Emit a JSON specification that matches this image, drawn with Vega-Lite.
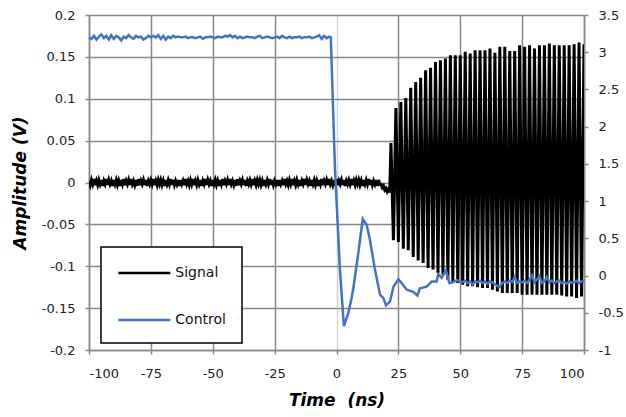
{
"$schema":"https://vega.github.io/schema/vega-lite/v6.json",
"width":495,"height":335,
"autosize":{"type":"none"},
"padding":{"left":89,"top":15,"right":42,"bottom":67},
"background":"white",
"config":{
 "view":{"stroke":null},
 "font":"DejaVu Sans",
 "axis":{"labelFont":"DejaVu Sans","labelFontSize":13,"labelColor":"#222","domainColor":"#888","domainWidth":1.5,"tickColor":"#888","tickWidth":1.5,"tickSize":4,"gridColor":"#888","gridWidth":1.5,"titleFont":"DejaVu Sans","titleFontSize":17,"titleFontWeight":"bold","titleFontStyle":"italic","titleColor":"#000"}
},
"datasets":{
"signal":[
{"t":-100,"v":0.002},{"t":-99.5,"v":-0.003},{"t":-99,"v":0.003},{"t":-98.5,"v":-0.002},{"t":-98,"v":0.004},{"t":-97.5,"v":-0.003},{"t":-97,"v":0.002},{"t":-96.5,"v":-0.003},{"t":-96,"v":0.003},{"t":-95.5,"v":-0.002},
{"t":-95,"v":0.003},{"t":-94.5,"v":-0.004},{"t":-94,"v":0.002},{"t":-93.5,"v":-0.002},{"t":-93,"v":0.004},{"t":-92.5,"v":-0.003},{"t":-92,"v":0.003},{"t":-91.5,"v":-0.002},{"t":-91,"v":0.002},{"t":-90.5,"v":-0.004},
{"t":-90,"v":0.003},{"t":-89.5,"v":-0.002},{"t":-89,"v":0.003},{"t":-88.5,"v":-0.003},{"t":-88,"v":0.002},{"t":-87.5,"v":-0.004},{"t":-87,"v":0.003},{"t":-86.5,"v":-0.002},{"t":-86,"v":0.004},{"t":-85.5,"v":-0.003},
{"t":-85,"v":0.002},{"t":-84.5,"v":-0.002},{"t":-84,"v":0.003},{"t":-83.5,"v":-0.003},{"t":-83,"v":0.004},{"t":-82.5,"v":-0.002},{"t":-82,"v":0.002},{"t":-81.5,"v":-0.003},{"t":-81,"v":0.003},{"t":-80.5,"v":-0.004},
{"t":-80,"v":0.004},{"t":-79.5,"v":-0.003},{"t":-79,"v":0.002},{"t":-78.5,"v":-0.002},{"t":-78,"v":0.003},{"t":-77.5,"v":-0.003},{"t":-77,"v":0.003},{"t":-76.5,"v":-0.004},{"t":-76,"v":0.002},{"t":-75.5,"v":-0.002},
{"t":-75,"v":0.003},{"t":-74.5,"v":-0.002},{"t":-74,"v":0.004},{"t":-73.5,"v":-0.003},{"t":-73,"v":0.002},{"t":-72.5,"v":-0.003},{"t":-72,"v":0.003},{"t":-71.5,"v":-0.002},{"t":-71,"v":0.003},{"t":-70.5,"v":-0.003},
{"t":-70,"v":0.002},{"t":-69.5,"v":-0.004},{"t":-69,"v":0.003},{"t":-68.5,"v":-0.002},{"t":-68,"v":0.003},{"t":-67.5,"v":-0.002},{"t":-67,"v":0.004},{"t":-66.5,"v":-0.003},{"t":-66,"v":0.003},{"t":-65.5,"v":-0.003},
{"t":-65,"v":0.002},{"t":-64.5,"v":-0.002},{"t":-64,"v":0.003},{"t":-63.5,"v":-0.004},{"t":-63,"v":0.003},{"t":-62.5,"v":-0.002},{"t":-62,"v":0.002},{"t":-61.5,"v":-0.003},{"t":-61,"v":0.004},{"t":-60.5,"v":-0.002},
{"t":-60,"v":0.002},{"t":-59.5,"v":-0.003},{"t":-59,"v":0.003},{"t":-58.5,"v":-0.002},{"t":-58,"v":0.004},{"t":-57.5,"v":-0.003},{"t":-57,"v":0.002},{"t":-56.5,"v":-0.003},{"t":-56,"v":0.003},{"t":-55.5,"v":-0.002},
{"t":-55,"v":0.003},{"t":-54.5,"v":-0.004},{"t":-54,"v":0.002},{"t":-53.5,"v":-0.002},{"t":-53,"v":0.004},{"t":-52.5,"v":-0.003},{"t":-52,"v":0.003},{"t":-51.5,"v":-0.002},{"t":-51,"v":0.002},{"t":-50.5,"v":-0.004},
{"t":-50,"v":0.003},{"t":-49.5,"v":-0.002},{"t":-49,"v":0.003},{"t":-48.5,"v":-0.003},{"t":-48,"v":0.002},{"t":-47.5,"v":-0.004},{"t":-47,"v":0.003},{"t":-46.5,"v":-0.002},{"t":-46,"v":0.004},{"t":-45.5,"v":-0.003},
{"t":-45,"v":0.002},{"t":-44.5,"v":-0.002},{"t":-44,"v":0.003},{"t":-43.5,"v":-0.003},{"t":-43,"v":0.004},{"t":-42.5,"v":-0.002},{"t":-42,"v":0.002},{"t":-41.5,"v":-0.003},{"t":-41,"v":0.003},{"t":-40.5,"v":-0.004},
{"t":-40,"v":0.004},{"t":-39.5,"v":-0.003},{"t":-39,"v":0.002},{"t":-38.5,"v":-0.002},{"t":-38,"v":0.003},{"t":-37.5,"v":-0.003},{"t":-37,"v":0.003},{"t":-36.5,"v":-0.004},{"t":-36,"v":0.002},{"t":-35.5,"v":-0.002},
{"t":-35,"v":0.003},{"t":-34.5,"v":-0.002},{"t":-34,"v":0.004},{"t":-33.5,"v":-0.003},{"t":-33,"v":0.002},{"t":-32.5,"v":-0.003},{"t":-32,"v":0.003},{"t":-31.5,"v":-0.002},{"t":-31,"v":0.003},{"t":-30.5,"v":-0.003},
{"t":-30,"v":0.002},{"t":-29.5,"v":-0.004},{"t":-29,"v":0.003},{"t":-28.5,"v":-0.002},{"t":-28,"v":0.003},{"t":-27.5,"v":-0.002},{"t":-27,"v":0.004},{"t":-26.5,"v":-0.003},{"t":-26,"v":0.003},{"t":-25.5,"v":-0.003},
{"t":-25,"v":0.002},{"t":-24.5,"v":-0.002},{"t":-24,"v":0.003},{"t":-23.5,"v":-0.004},{"t":-23,"v":0.003},{"t":-22.5,"v":-0.002},{"t":-22,"v":0.002},{"t":-21.5,"v":-0.003},{"t":-21,"v":0.004},{"t":-20.5,"v":-0.002},
{"t":-20,"v":0.002},{"t":-19.5,"v":-0.003},{"t":-19,"v":0.003},{"t":-18.5,"v":-0.002},{"t":-18,"v":0.004},{"t":-17.5,"v":-0.003},{"t":-17,"v":0.002},{"t":-16.5,"v":-0.003},{"t":-16,"v":0.003},{"t":-15.5,"v":-0.002},
{"t":-15,"v":0.003},{"t":-14.5,"v":-0.004},{"t":-14,"v":0.002},{"t":-13.5,"v":-0.002},{"t":-13,"v":0.004},{"t":-12.5,"v":-0.003},{"t":-12,"v":0.003},{"t":-11.5,"v":-0.002},{"t":-11,"v":0.002},{"t":-10.5,"v":-0.004},
{"t":-10,"v":0.003},{"t":-9.5,"v":-0.002},{"t":-9,"v":0.003},{"t":-8.5,"v":-0.003},{"t":-8,"v":0.002},{"t":-7.5,"v":-0.004},{"t":-7,"v":0.003},{"t":-6.5,"v":-0.002},{"t":-6,"v":0.004},{"t":-5.5,"v":-0.003},
{"t":-5,"v":0.002},{"t":-4.5,"v":-0.002},{"t":-4,"v":0.003},{"t":-3.5,"v":-0.003},{"t":-3,"v":0.004},{"t":-2.5,"v":-0.002},{"t":-2,"v":0.002},{"t":-1.5,"v":-0.003},{"t":-1,"v":0.003},{"t":-0.5,"v":-0.004},
{"t":0,"v":0.004},{"t":0.5,"v":-0.003},{"t":1,"v":0.002},{"t":1.5,"v":-0.002},{"t":2,"v":0.003},{"t":2.5,"v":-0.003},{"t":3,"v":0.003},{"t":3.5,"v":-0.004},{"t":4,"v":0.002},{"t":4.5,"v":-0.002},
{"t":5,"v":0.003},{"t":5.5,"v":-0.002},{"t":6,"v":0.004},{"t":6.5,"v":-0.003},{"t":7,"v":0.002},{"t":7.5,"v":-0.003},{"t":8,"v":0.003},{"t":8.5,"v":-0.002},{"t":9,"v":0.003},{"t":9.5,"v":-0.003},
{"t":10,"v":0.002},{"t":10.5,"v":-0.004},{"t":11,"v":0.003},{"t":11.5,"v":-0.002},{"t":12,"v":0.003},{"t":12.5,"v":-0.002},{"t":13,"v":0.004},{"t":13.5,"v":-0.003},{"t":14,"v":0.003},{"t":14.5,"v":-0.003},
{"t":15,"v":0.002},{"t":15.5,"v":-0.002},{"t":16,"v":0.003},{"t":16.5,"v":-0.004},{"t":17,"v":0.003},{"t":17.5,"v":-0.002},
{"t":18,"v":-0.002},{"t":18.5,"v":-0.006},{"t":19,"v":-0.004},{"t":19.5,"v":-0.009},{"t":20,"v":-0.007},{"t":20.5,"v":-0.011},{"t":21,"v":-0.008},{"t":21.5,"v":-0.012},
{"t":22,"v":0.047},{"t":23,"v":-0.069},{"t":24,"v":0.089},{"t":25,"v":-0.071},{"t":26,"v":0.096},{"t":27,"v":-0.079},{"t":28,"v":0.101},{"t":29,"v":-0.081},{"t":30,"v":0.113},{"t":31,"v":-0.089},
{"t":32,"v":0.12},{"t":33,"v":-0.093},{"t":34,"v":0.125},{"t":35,"v":-0.096},{"t":36,"v":0.134},{"t":37,"v":-0.102},{"t":38,"v":0.137},{"t":39,"v":-0.104},{"t":40,"v":0.144},{"t":41,"v":-0.108},
{"t":42,"v":0.146},{"t":43,"v":-0.11},{"t":44,"v":0.148},{"t":45,"v":-0.116},{"t":46,"v":0.152},{"t":47,"v":-0.118},{"t":48,"v":0.152},{"t":49,"v":-0.12},{"t":50,"v":0.152},{"t":51,"v":-0.122},
{"t":52,"v":0.156},{"t":53,"v":-0.124},{"t":54,"v":0.154},{"t":55,"v":-0.124},{"t":56,"v":0.158},{"t":57,"v":-0.125},{"t":58,"v":0.158},{"t":59,"v":-0.126},{"t":60,"v":0.158},{"t":61,"v":-0.126},
{"t":62,"v":0.16},{"t":63,"v":-0.128},{"t":64,"v":0.155},{"t":65,"v":-0.13},{"t":66,"v":0.162},{"t":67,"v":-0.132},{"t":68,"v":0.162},{"t":69,"v":-0.132},{"t":70,"v":0.157},{"t":71,"v":-0.132},
{"t":72,"v":0.157},{"t":73,"v":-0.132},{"t":74,"v":0.164},{"t":75,"v":-0.134},{"t":76,"v":0.162},{"t":77,"v":-0.134},{"t":78,"v":0.164},{"t":79,"v":-0.134},{"t":80,"v":0.16},{"t":81,"v":-0.134},
{"t":82,"v":0.164},{"t":83,"v":-0.134},{"t":84,"v":0.164},{"t":85,"v":-0.134},{"t":86,"v":0.166},{"t":87,"v":-0.134},{"t":88,"v":0.164},{"t":89,"v":-0.134},{"t":90,"v":0.164},{"t":91,"v":-0.135},
{"t":92,"v":0.164},{"t":93,"v":-0.136},{"t":94,"v":0.164},{"t":95,"v":-0.136},{"t":96,"v":0.165},{"t":97,"v":-0.138},{"t":98,"v":0.167},{"t":99,"v":-0.136},{"t":100,"v":0.165}
],
"control":[
{"t":-100,"v":3.2},{"t":-99,"v":3.18},{"t":-98,"v":3.22},{"t":-97,"v":3.17},{"t":-96,"v":3.21},{"t":-95,"v":3.24},{"t":-94,"v":3.19},{"t":-93,"v":3.22},{"t":-92,"v":3.17},{"t":-91,"v":3.23},
{"t":-90,"v":3.18},{"t":-89,"v":3.22},{"t":-88,"v":3.2},{"t":-87,"v":3.16},{"t":-86,"v":3.21},{"t":-85,"v":3.19},{"t":-84,"v":3.23},{"t":-83,"v":3.2},{"t":-82,"v":3.18},{"t":-81,"v":3.22},
{"t":-80,"v":3.2},{"t":-79,"v":3.21},{"t":-78,"v":3.17},{"t":-77,"v":3.19},{"t":-76,"v":3.22},{"t":-75,"v":3.2},{"t":-74,"v":3.22},{"t":-73,"v":3.2},{"t":-72,"v":3.23},{"t":-71,"v":3.18},
{"t":-70,"v":3.22},{"t":-69,"v":3.17},{"t":-68,"v":3.21},{"t":-67,"v":3.19},{"t":-66,"v":3.22},{"t":-65,"v":3.2},{"t":-64,"v":3.21},{"t":-63,"v":3.2},{"t":-62,"v":3.2},{"t":-61,"v":3.21},
{"t":-60,"v":3.19},{"t":-59,"v":3.2},{"t":-58,"v":3.2},{"t":-57,"v":3.19},{"t":-56,"v":3.2},{"t":-55,"v":3.21},{"t":-54,"v":3.18},{"t":-53,"v":3.2},{"t":-52,"v":3.2},{"t":-51,"v":3.21},
{"t":-50,"v":3.2},{"t":-49,"v":3.19},{"t":-48,"v":3.21},{"t":-47,"v":3.2},{"t":-46,"v":3.2},{"t":-45,"v":3.22},{"t":-44,"v":3.21},{"t":-43,"v":3.23},{"t":-42,"v":3.2},{"t":-41,"v":3.22},
{"t":-40,"v":3.19},{"t":-39,"v":3.21},{"t":-38,"v":3.19},{"t":-37,"v":3.2},{"t":-36,"v":3.21},{"t":-35,"v":3.2},{"t":-34,"v":3.2},{"t":-33,"v":3.19},{"t":-32,"v":3.21},{"t":-31,"v":3.22},
{"t":-30,"v":3.19},{"t":-29,"v":3.2},{"t":-28,"v":3.21},{"t":-27,"v":3.2},{"t":-26,"v":3.19},{"t":-25,"v":3.2},{"t":-24,"v":3.21},{"t":-23,"v":3.19},{"t":-22,"v":3.22},{"t":-21,"v":3.2},
{"t":-20,"v":3.19},{"t":-19,"v":3.21},{"t":-18,"v":3.19},{"t":-17,"v":3.2},{"t":-16,"v":3.2},{"t":-15,"v":3.21},{"t":-14,"v":3.19},{"t":-13,"v":3.2},{"t":-12,"v":3.2},{"t":-11,"v":3.21},
{"t":-10,"v":3.19},{"t":-9,"v":3.2},{"t":-8,"v":3.21},{"t":-7,"v":3.23},{"t":-6,"v":3.18},{"t":-5,"v":3.22},{"t":-4,"v":3.19},{"t":-3,"v":3.21},{"t":-2.3,"v":3.2},
{"t":-0.6,"v":1.42},{"t":1.4,"v":0.07},{"t":3,"v":-0.68},{"t":4.8,"v":-0.5},{"t":6.1,"v":-0.3},{"t":6.8,"v":-0.17},{"t":8.8,"v":0.3},{"t":10.6,"v":0.76},{"t":12.2,"v":0.68},{"t":13.5,"v":0.48},
{"t":15.6,"v":0.07},{"t":17.6,"v":-0.26},{"t":18.9,"v":-0.3},{"t":20,"v":-0.4},{"t":21.6,"v":-0.35},{"t":23,"v":-0.15},{"t":25,"v":-0.05},{"t":26.3,"v":-0.1},{"t":28.4,"v":-0.19},{"t":31,"v":-0.22},
{"t":32.7,"v":-0.27},{"t":33.7,"v":-0.17},{"t":36.4,"v":-0.15},{"t":38.5,"v":-0.08},{"t":40.5,"v":-0.08},{"t":41.1,"v":0.02},{"t":42.5,"v":-0.03},{"t":44.2,"v":0.07},{"t":45.6,"v":-0.1},{"t":47,"v":-0.09},
{"t":48.6,"v":-0.06},{"t":50,"v":-0.08},{"t":51,"v":-0.09},{"t":52,"v":-0.07},{"t":53,"v":-0.1},{"t":54,"v":-0.08},{"t":55,"v":-0.12},{"t":56,"v":-0.08},{"t":57,"v":-0.09},{"t":58,"v":-0.07},
{"t":59,"v":-0.1},{"t":60,"v":-0.08},{"t":61,"v":-0.11},{"t":62,"v":-0.08},{"t":63,"v":-0.09},{"t":64,"v":-0.12},{"t":65,"v":-0.14},{"t":66,"v":-0.15},{"t":67,"v":-0.1},{"t":68,"v":-0.08},
{"t":69,"v":-0.1},{"t":70,"v":-0.07},{"t":71,"v":-0.09},{"t":72,"v":-0.02},{"t":73,"v":-0.1},{"t":74,"v":-0.08},{"t":75,"v":-0.09},{"t":76,"v":-0.07},{"t":77,"v":-0.1},{"t":78,"v":-0.06},
{"t":79,"v":0.0},{"t":80,"v":-0.09},{"t":81,"v":-0.05},{"t":82,"v":-0.01},{"t":83,"v":-0.1},{"t":84,"v":-0.08},{"t":85,"v":-0.02},{"t":86,"v":-0.09},{"t":87,"v":-0.07},{"t":88,"v":-0.1},
{"t":89,"v":-0.08},{"t":90,"v":-0.07},{"t":91,"v":-0.1},{"t":92,"v":-0.09},{"t":93,"v":-0.11},{"t":94,"v":-0.08},{"t":95,"v":-0.1},{"t":96,"v":-0.09},{"t":97,"v":-0.07},{"t":98,"v":-0.1},
{"t":99,"v":-0.08},{"t":100,"v":-0.08}
]
},
"layer":[
{
 "data":{"name":"signal"},
 "mark":{"type":"line","strokeWidth":3,"clip":true},
 "encoding":{
  "x":{"field":"t","type":"quantitative","scale":{"domain":[-100,100],"nice":false,"zero":false},
   "axis":{"values":[-100,-75,-50,-25,0,25,50,75,100],"labelExpr":"'' + datum.value","labelPadding":13,"title":"Time\u00a0 (ns)","titlePadding":12,
    "gridColor":{"condition":{"test":"datum.value === 0","value":"#d4d4d4"},"value":"#888"}}},
  "y":{"field":"v","type":"quantitative","scale":{"domain":[-0.2,0.2],"nice":false,"zero":false},
   "axis":{"values":[-0.2,-0.15,-0.1,-0.05,0,0.05,0.1,0.15,0.2],"labelExpr":"'' + datum.value","labelPadding":10,"title":"Amplitude (V)","titlePadding":12}},
  "color":{"datum":"Signal","type":"nominal","scale":{"domain":["Signal","Control"],"range":["#000000","#4472C4"]},
   "legend":{"orient":"none","legendX":12,"legendY":232,"title":null,"strokeColor":"#000","fillColor":"#fff","padding":16,"rowPadding":30,
    "symbolType":"M-3,0H3","symbolSize":300,"symbolOffset":17.3,"labelOffset":21,"symbolStrokeWidth":2.5,
    "labelFontSize":14,"labelFont":"DejaVu Sans","labelColor":"#111","direction":"vertical",
    "encode":{"legend":{"update":{"strokeWidth":{"value":1.5}}}}}}
 }
},
{
 "data":{"name":"control"},
 "mark":{"type":"line","strokeWidth":2.5,"clip":true},
 "encoding":{
  "x":{"field":"t","type":"quantitative"},
  "y":{"field":"v","type":"quantitative","scale":{"domain":[-1,3.5],"nice":false,"zero":false},
   "axis":{"orient":"right","values":[-1,-0.5,0,0.5,1,1.5,2,2.5,3,3.5],"labelExpr":"'' + datum.value","labelPadding":10,"title":null,"grid":false}},
  "color":{"datum":"Control","type":"nominal"}
 }
}
],
"resolve":{"scale":{"y":"independent"}}
}
